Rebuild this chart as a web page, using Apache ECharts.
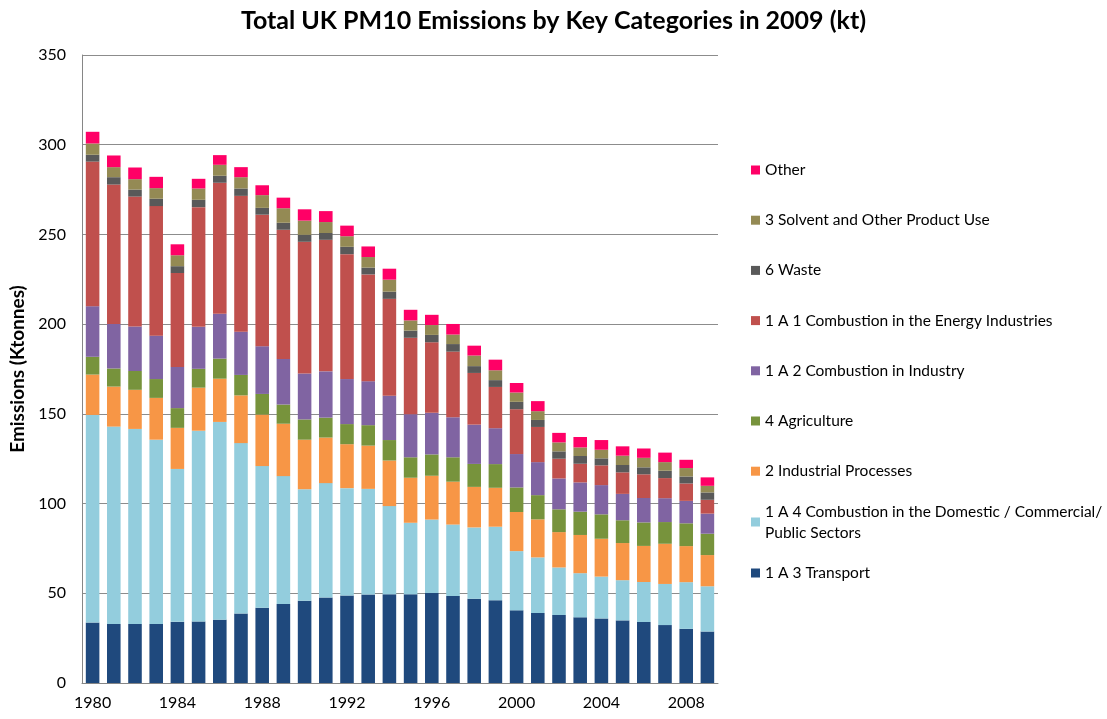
<!DOCTYPE html>
<html>
<head>
<meta charset="utf-8">
<script src="https://cdn.jsdelivr.net/npm/echarts@6/dist/echarts.min.js"></script>
<style>
html,body{margin:0;padding:0;background:#fff;}
#chart{width:1107px;height:719px;}
</style>
</head>
<body>
<div id="chart"></div>
<script>
const years = ['1980','1981','1982','1983','1984','1985','1986','1987','1988','1989','1990','1991','1992','1993','1994','1995','1996','1997','1998','1999','2000','2001','2002','2003','2004','2005','2006','2007','2008','2009'];
const transport = [33.7,32.9,32.9,32.9,34.1,34.3,35.3,38.8,42.0,44.0,45.9,47.7,48.7,49.3,49.5,49.5,50.1,48.5,46.9,46.1,40.5,39.0,37.9,36.6,36.0,34.9,34.0,32.3,30.2,28.7];
const domestic = [115.7,110.0,108.7,102.7,85.2,106.3,110.2,94.9,78.9,71.3,62.1,63.7,59.9,58.9,49.1,39.8,41.0,39.8,39.8,41.0,33.0,31.0,26.5,24.6,23.3,22.4,22.3,22.9,26.0,25.2];
const indProc = [22.5,22.3,21.8,23.3,22.9,24.0,24.1,26.6,28.7,29.2,27.6,25.4,24.5,24.1,25.4,25.1,24.4,23.9,22.6,21.7,21.8,21.2,19.7,21.3,21.1,20.7,20.1,22.4,20.1,17.4];
const agriculture = [9.9,10.1,10.5,10.5,11.0,10.5,11.2,11.4,11.5,10.7,11.3,11.1,11.2,11.4,11.4,11.4,11.9,13.6,12.8,13.2,13.7,13.5,12.7,13.0,13.6,12.7,13.1,12.1,12.7,11.9];
const industry = [28.2,24.8,24.8,24.2,22.9,23.4,25.0,24.1,26.6,25.4,25.6,25.8,25.1,24.5,24.7,24.0,23.2,22.3,21.9,20.0,18.6,18.4,17.2,16.3,16.3,14.7,13.6,13.3,12.5,11.2];
const energy = [80.6,77.7,72.4,72.2,52.4,66.7,73.0,75.7,73.3,72.0,73.4,73.3,69.6,59.5,54.0,42.6,39.3,36.6,28.8,23.0,25.0,19.6,11.0,10.4,11.0,12.0,13.2,11.2,9.7,7.7];
const waste = [3.8,4.1,3.9,4.1,3.8,4.1,3.9,4.1,3.8,3.9,3.9,3.8,4.1,3.8,4.0,4.0,4.1,4.2,3.8,3.8,4.1,3.9,4.1,4.3,3.9,4.1,3.9,4.1,3.9,4.1];
const solvent = [6.3,5.6,5.8,5.9,6.1,6.3,6.1,6.3,7.1,8.1,7.9,6.1,5.9,5.9,6.7,5.7,5.5,5.3,5.9,5.5,5.2,4.9,5.0,4.8,4.8,5.2,5.3,4.8,4.7,3.7];
const other = [6.5,6.5,6.5,6.3,6.1,5.4,5.4,5.6,5.5,5.9,6.3,6.1,5.9,5.9,6.1,5.9,5.7,5.9,5.5,5.9,5.3,5.6,5.3,5.8,5.4,5.2,5.2,5.3,4.6,4.7];

const N_TRANSPORT = '1 A 3 Transport';
const N_DOMESTIC = '1 A 4 Combustion in the Domestic / Commercial/ Public Sectors';
const N_INDPROC = '2 Industrial Processes';
const N_AGRI = '4 Agriculture';
const N_INDUSTRY = '1 A 2 Combustion in Industry';
const N_ENERGY = '1 A 1 Combustion in the Energy Industries';
const N_WASTE = '6 Waste';
const N_SOLVENT = '3 Solvent and Other Product Use';
const N_OTHER = 'Other';

const seriesDefs = [
  [N_TRANSPORT, transport, '#1F497D'],
  [N_DOMESTIC, domestic, '#93CDDD'],
  [N_INDPROC, indProc, '#F79646'],
  [N_AGRI, agriculture, '#77933C'],
  [N_INDUSTRY, industry, '#8064A2'],
  [N_ENERGY, energy, '#C0504D'],
  [N_WASTE, waste, '#595959'],
  [N_SOLVENT, solvent, '#948A54'],
  [N_OTHER, other, '#FF0066']
];

const FONT = 'Lato';
const legendText = {fontFamily: FONT, fontSize: 15.5, color: '#000', lineHeight: 21};

const chart = echarts.init(document.getElementById('chart'));
chart.setOption({
  animation: false,
  backgroundColor: '#fff',
  title: {
    text: 'Total UK PM10 Emissions by Key Categories in 2009 (kt)',
    left: 'center', top: 8, padding: 0,
    textStyle: {fontFamily: FONT, fontSize: 25, fontWeight: 'bold', color: '#000'}
  },
  legend: [
    {
      orient: 'vertical', left: 751, top: 159.5, padding: 0,
      itemWidth: 9, itemHeight: 9, itemGap: 29.2, icon: 'rect',
      data: [N_OTHER, N_SOLVENT, N_WASTE, N_ENERGY, N_INDUSTRY, N_AGRI, N_INDPROC],
      textStyle: legendText
    },
    {
      orient: 'vertical', left: 751, top: 490.5, padding: 0,
      itemWidth: 9, itemHeight: 9, icon: 'rect',
      data: [N_DOMESTIC],
      formatter: function () { return '1 A 4 Combustion in the Domestic / Commercial/\nPublic Sectors'; },
      textStyle: Object.assign({}, legendText, {padding: [21, 0, 0, 0]})
    },
    {
      orient: 'vertical', left: 751, top: 562.5, padding: 0,
      itemWidth: 9, itemHeight: 9, icon: 'rect',
      data: [N_TRANSPORT],
      textStyle: legendText
    }
  ],
  grid: {left: 82, right: 389, top: 55, bottom: 36, containLabel: false},
  xAxis: {
    type: 'category', data: years,
    axisLine: {lineStyle: {color: '#868686', width: 1}},
    axisTick: {interval: 0, length: 5, lineStyle: {color: '#868686'}},
    axisLabel: {interval: 3, fontFamily: FONT, fontSize: 16, color: '#000', margin: 12}
  },
  yAxis: {
    type: 'value', min: 0, max: 350, interval: 50,
    name: 'Emissions (Ktonnes)', nameLocation: 'middle', nameGap: 47,
    nameTextStyle: {fontFamily: FONT, fontSize: 19, fontWeight: 'bold', color: '#000'},
    axisLine: {show: true, lineStyle: {color: '#868686', width: 1}},
    axisTick: {show: false},
    axisLabel: {fontFamily: FONT, fontSize: 16, color: '#000', margin: 16},
    splitLine: {lineStyle: {color: '#8c8c8c', width: 1}}
  },
  series: seriesDefs.map(function (d) {
    return {
      name: d[0], type: 'bar', stack: 'total', data: d[1],
      barCategoryGap: '36%',
      itemStyle: {color: d[2]}
    };
  })
});
</script>
</body>
</html>
